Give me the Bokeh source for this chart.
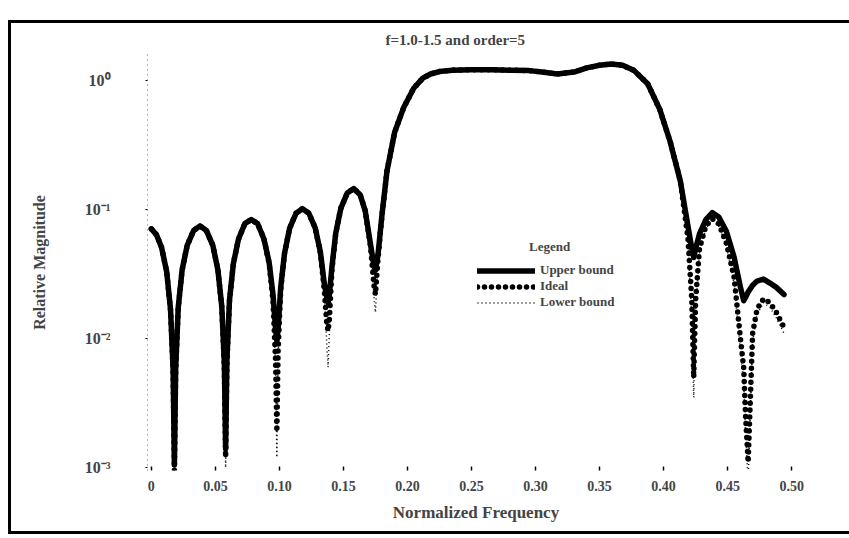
from bokeh.plotting import figure
from bokeh.models import Range1d, FixedTicker, Legend, LegendItem
from bokeh.embed import file_html
from bokeh.resources import INLINE

# ---- data ----
freq = [0.000, 0.004, 0.008, 0.012, 0.015, 0.017, 0.018, 0.019, 0.021, 0.024,
        0.028, 0.033, 0.038, 0.043, 0.048, 0.052, 0.055, 0.057, 0.058, 0.059,
        0.061, 0.064, 0.068, 0.073, 0.078, 0.083, 0.088, 0.092, 0.095, 0.097,
        0.098, 0.099, 0.101, 0.104, 0.108, 0.113, 0.118, 0.123, 0.128, 0.132,
        0.135, 0.137, 0.138, 0.139, 0.141, 0.144, 0.148, 0.153, 0.158, 0.163,
        0.167, 0.171, 0.174, 0.175, 0.177, 0.180, 0.184, 0.190, 0.197, 0.205,
        0.212, 0.218, 0.225, 0.235, 0.250, 0.265, 0.280, 0.295, 0.305, 0.317,
        0.330, 0.340, 0.350, 0.359, 0.368, 0.377, 0.3875, 0.397, 0.405, 0.413,
        0.419, 0.422, 0.4235, 0.425, 0.428, 0.433, 0.438, 0.443, 0.449, 0.455,
        0.460, 0.4625, 0.464, 0.466, 0.4695, 0.473, 0.478, 0.483, 0.488, 0.494]

upper_bound = [0.071, 0.064, 0.051, 0.033, 0.0168, 0.0058, 0.00105, 0.0059, 0.0175, 0.034,
               0.053, 0.069, 0.075, 0.069, 0.053, 0.034, 0.0178, 0.0065, 0.0014, 0.0068,
               0.0198, 0.038, 0.059, 0.078, 0.084, 0.078, 0.059, 0.039, 0.022, 0.012,
               0.0096, 0.012, 0.025, 0.046, 0.072, 0.094, 0.102, 0.094, 0.072, 0.047,
               0.027, 0.021, 0.019, 0.022, 0.036, 0.066, 0.103, 0.135, 0.146, 0.131,
               0.098, 0.055, 0.036, 0.034, 0.045, 0.09, 0.2, 0.4, 0.62, 0.88,
               1.05, 1.13, 1.18, 1.21, 1.22, 1.22, 1.21, 1.2, 1.17, 1.13,
               1.17, 1.26, 1.32, 1.35, 1.32, 1.2, 0.95, 0.6, 0.34, 0.168,
               0.075, 0.05, 0.0426, 0.05, 0.065, 0.084, 0.095, 0.088, 0.068, 0.043,
               0.025, 0.0197, 0.021, 0.023, 0.026, 0.028, 0.029, 0.027, 0.025, 0.022]

ideal = [0.071, 0.064, 0.051, 0.033, 0.0165, 0.0055, 0.00095, 0.0056, 0.0172, 0.034,
         0.053, 0.069, 0.075, 0.069, 0.053, 0.034, 0.0175, 0.006, 0.0012, 0.0064,
         0.0195, 0.038, 0.059, 0.078, 0.084, 0.078, 0.059, 0.038, 0.0196, 0.0068,
         0.0019, 0.0082, 0.0238, 0.046, 0.072, 0.094, 0.102, 0.094, 0.072, 0.046,
         0.024, 0.013, 0.0115, 0.014, 0.034, 0.066, 0.103, 0.135, 0.146, 0.131,
         0.098, 0.053, 0.025, 0.022, 0.042, 0.088, 0.2, 0.4, 0.62, 0.88,
         1.05, 1.13, 1.18, 1.21, 1.22, 1.22, 1.21, 1.2, 1.17, 1.13,
         1.17, 1.26, 1.32, 1.35, 1.32, 1.2, 0.95, 0.6, 0.34, 0.168,
         0.06, 0.02, 0.005, 0.02, 0.05, 0.075, 0.085, 0.078, 0.055, 0.03,
         0.01, 0.006, 0.0025, 0.0011, 0.011, 0.017, 0.0204, 0.019, 0.016, 0.0122]

lower_bound = [0.070, 0.063, 0.050, 0.032, 0.016, 0.005, 0.0008, 0.005, 0.0168, 0.033,
               0.052, 0.068, 0.074, 0.068, 0.052, 0.033, 0.017, 0.0055, 0.001, 0.0058,
               0.019, 0.037, 0.058, 0.077, 0.083, 0.077, 0.058, 0.037, 0.019, 0.006,
               0.0012, 0.0075, 0.023, 0.045, 0.071, 0.093, 0.101, 0.093, 0.071, 0.045,
               0.023, 0.009, 0.006, 0.011, 0.033, 0.065, 0.102, 0.134, 0.145, 0.130,
               0.097, 0.052, 0.020, 0.016, 0.04, 0.086, 0.198, 0.396, 0.615, 0.875,
               1.045, 1.125, 1.175, 1.205, 1.215, 1.215, 1.205, 1.195, 1.165, 1.125,
               1.165, 1.255, 1.315, 1.345, 1.315, 1.195, 0.945, 0.595, 0.335, 0.165,
               0.055, 0.014, 0.0035, 0.016, 0.046, 0.072, 0.082, 0.075, 0.052, 0.027,
               0.008, 0.0045, 0.0018, 0.0008, 0.0095, 0.0155, 0.019, 0.0175, 0.0145, 0.011]

x_ticks = [0.0, 0.05, 0.10, 0.15, 0.20, 0.25, 0.30, 0.35, 0.40, 0.45, 0.50]
x_tick_labels = ["0", "0.05", "0.10", "0.15", "0.20", "0.25", "0.30", "0.35", "0.40", "0.45", "0.50"]
y_ticks = [0.001, 0.01, 0.1, 1.0]
y_tick_labels = ["10\u207b\u00b3", "10\u207b\u00b2", "10\u207b\u00b9", "10\u2070"]
series_names = ["Upper bound", "Ideal", "Lower bound"]
legend_title = "Legend"
title_text = "f=1.0-1.5 and order=5"

FONT = "Liberation Serif"

p = figure(width=846, height=514, y_axis_type="log",
           x_range=Range1d(-0.003, 0.51), y_range=Range1d(0.00095, 1.6),
           output_backend="svg", toolbar_location=None,
           min_border_left=136, min_border_top=31, min_border_right=53, min_border_bottom=67,
           title=title_text)

p.styles = {"border-left": "3px solid black", "border-top": "3px solid black",
            "border-bottom": "3px solid black", "border-right": "0px none",
            "overflow": "hidden",
            "margin-top": "20px", "margin-left": "8px"}

p.outline_line_color = None
p.xgrid.grid_line_color = None
p.ygrid.grid_line_color = None
p.background_fill_color = "white"
p.border_fill_color = "white"

p.title.text_font = FONT
p.title.text_font_size = "15px"
p.title.text_font_style = "bold"
p.title.align = "left"
p.title.offset = 238
p.title.standoff = 13

r_up = p.line(freq, upper_bound, line_color="black", line_width=5.5, line_join="round", line_cap="round")
r_id = p.line(freq, ideal, line_color="black", line_width=5.5, line_dash="0 7", line_cap="round")
r_lo = p.line(freq, lower_bound, line_color="black", line_width=1.5, line_dash="1 3")

xa = p.xaxis[0]
xa.ticker = FixedTicker(ticks=x_ticks)
xa.major_label_overrides = {t: s for t, s in zip(x_ticks, x_tick_labels)}
xa.axis_line_color = None
xa.major_tick_in = 4
xa.major_tick_out = 0
xa.major_tick_line_width = 1.5
xa.minor_tick_line_color = None
xa.major_label_standoff = 10
xa.major_label_text_font = FONT
xa.major_label_text_font_size = "14px"
xa.major_label_text_font_style = "bold"
xa.axis_label = "Normalized Frequency"
xa.axis_label_text_font = FONT
xa.axis_label_text_font_size = "17px"
xa.axis_label_text_font_style = "bold"
xa.axis_label_standoff = 9

ya = p.yaxis[0]
ya.ticker = FixedTicker(ticks=y_ticks)
ya.major_label_overrides = {t: s for t, s in zip(y_ticks, y_tick_labels)}
ya.axis_line_color = "black"
ya.axis_line_alpha = 0.6
ya.axis_line_dash = "1 4"
ya.major_tick_in = 0
ya.major_tick_out = 2
ya.minor_tick_line_color = None
ya.major_label_standoff = 35
ya.major_label_text_font = FONT
ya.major_label_text_font_size = "16px"
ya.major_label_text_font_style = "bold"
ya.axis_label = "Relative Magnitude"
ya.axis_label_text_font = FONT
ya.axis_label_text_font_size = "16px"
ya.axis_label_text_font_style = "bold"
ya.axis_label_standoff = 34

legend = Legend(items=[LegendItem(label=series_names[0], renderers=[r_up]),
                       LegendItem(label=series_names[1], renderers=[r_id]),
                       LegendItem(label=series_names[2], renderers=[r_lo])],
                location=(330, 160), title="\u00a0" * 16 + legend_title)
legend.border_line_color = None
legend.background_fill_alpha = 0
legend.padding = 0
legend.margin = 0
legend.spacing = 0
legend.label_height = 15
legend.glyph_height = 15
legend.glyph_width = 58
legend.label_standoff = 5
legend.title_standoff = 7
legend.label_text_font = FONT
legend.label_text_font_size = "13px"
legend.label_text_font_style = "bold"
legend.title_text_font = FONT
legend.title_text_font_size = "13px"
legend.title_text_font_style = "bold"
p.add_layout(legend)

open("out.html", "w").write(file_html(p, INLINE))
